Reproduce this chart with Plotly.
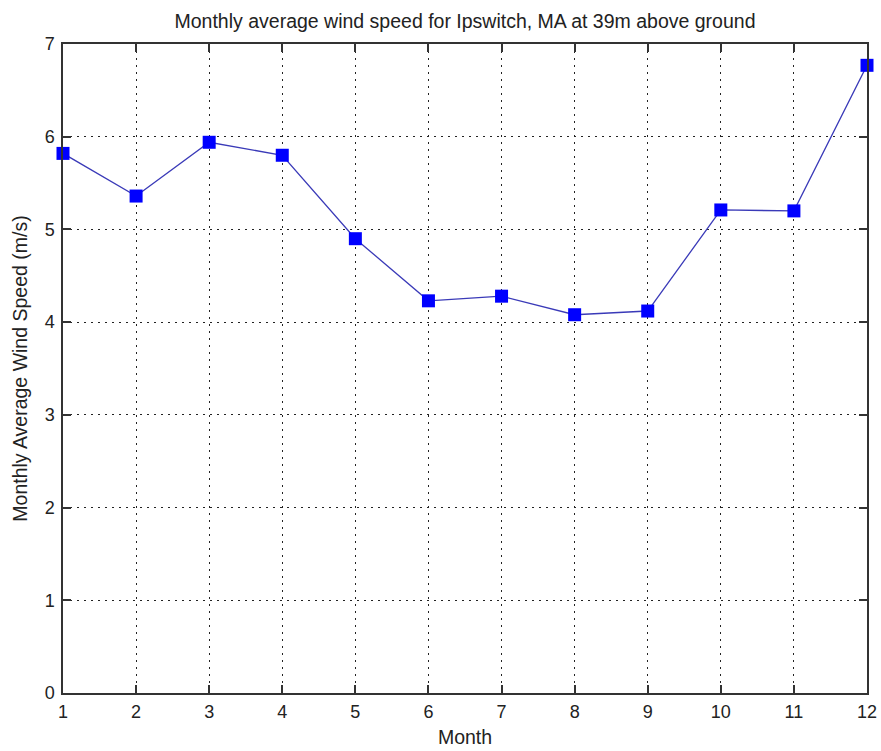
import plotly.graph_objects as go

months = [1, 2, 3, 4, 5, 6, 7, 8, 9, 10, 11, 12]
wind_speed = [5.82, 5.36, 5.94, 5.80, 4.90, 4.23, 4.28, 4.08, 4.12, 5.21, 5.20, 6.77]
x_ticks = list(range(1, 13))
y_ticks = list(range(0, 8))

family = "Liberation Sans, Arial, sans-serif"
tick_font = dict(family=family, size=18, color="#222222")
label_font = dict(family=family, size=19.5, color="#222222")
title_font = dict(family=family, size=19.5, color="#222222")

fig = go.Figure(
    go.Scatter(
        x=months,
        y=wind_speed,
        mode="lines+markers",
        line=dict(color="#3a3ab8", width=1.3),
        marker=dict(symbol="square", size=13, color="#0000ff"),
        cliponaxis=False,
    )
)

axis_common = dict(
    showline=True,
    linecolor="#333333",
    linewidth=1.5,
    mirror="ticks",
    ticks="inside",
    ticklen=8,
    tickcolor="#333333",
    tickwidth=1.5,
    showgrid=True,
    gridcolor="#222222",
    griddash="2px,5px",
    gridwidth=1.2,
    zeroline=False,
    automargin=False,
    tickfont=tick_font,
)

fig.update_xaxes(
    range=[1, 12],
    tickvals=x_ticks,
    ticklabelstandoff=2,
    title=dict(text="Month", font=label_font, standoff=9),
    **axis_common,
)
fig.update_yaxes(
    range=[0, 7],
    tickvals=y_ticks,
    ticklabelstandoff=3,
    title=dict(text="Monthly Average Wind Speed (m/s)", font=label_font, standoff=12),
    **axis_common,
)

fig.update_layout(
    width=881,
    height=751,
    margin=dict(l=63, r=14, t=44, b=58),
    paper_bgcolor="white",
    plot_bgcolor="white",
    showlegend=False,
    title=dict(
        text="Monthly average wind speed for Ipswitch, MA at 39m above ground",
        x=0.5,
        xanchor="center",
        xref="paper",
        y=1 - 21 / 751,
        yanchor="middle",
        font=title_font,
    ),
)

fig.write_html("out.html")
